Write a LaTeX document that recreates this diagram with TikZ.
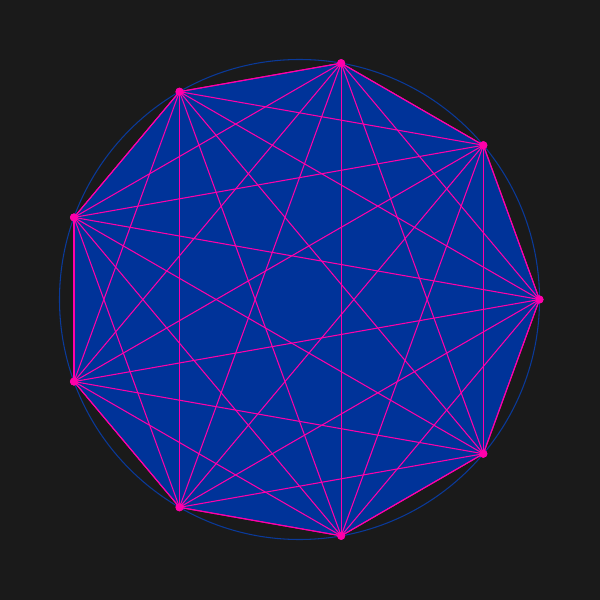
\documentclass[tikz,border=0pt]{standalone}
\usepackage{xcolor}
\usepackage{tikz}
\usetikzlibrary{positioning, calc}

\definecolor{bgdark}{HTML}{1A1A1A}
\definecolor{polyblue}{HTML}{003399}
\definecolor{ringblue}{HTML}{0A3A9A}
\definecolor{chordpink}{HTML}{FF00AA}

\begin{document}
\begin{tikzpicture}[
    ring/.style={draw=ringblue, line width=0.3pt},
    poly/.style={fill=polyblue, draw=chordpink, line width=0.3pt},
    chord/.style={draw=chordpink, line width=0.3pt},
    vertex/.style={circle, fill=chordpink, inner sep=0pt, minimum size=0.08cm}
]
\fill[bgdark] (0,0) rectangle (6,6);
\useasboundingbox (0,0) rectangle (6,6);
\coordinate (ctr) at (2.995,3.005);

% outer ring
\draw[ring] (ctr) circle (2.4);

% vertices of the nonagon
\node[vertex] (p0) at ($(ctr)+(0:2.4)$) {};
\node[vertex] (p1) at ($(ctr)+(40:2.4)$) {};
\node[vertex] (p2) at ($(ctr)+(80:2.4)$) {};
\node[vertex] (p3) at ($(ctr)+(120:2.4)$) {};
\node[vertex] (p4) at ($(ctr)+(160:2.4)$) {};
\node[vertex] (p5) at ($(ctr)+(200:2.4)$) {};
\node[vertex] (p6) at ($(ctr)+(240:2.4)$) {};
\node[vertex] (p7) at ($(ctr)+(280:2.4)$) {};
\node[vertex] (p8) at ($(ctr)+(320:2.4)$) {};

% filled body
\path[poly] (p0.center) -- (p1.center) -- (p2.center) -- (p3.center) -- (p4.center)
    -- (p5.center) -- (p6.center) -- (p7.center) -- (p8.center) -- cycle;

% all chords
\foreach \i in {0,...,7} {
  \pgfmathtruncatemacro{\nxt}{\i+1}
  \foreach \j in {\nxt,...,8} {
    \draw[chord] (p\i.center) -- (p\j.center);
  }
}

% dots on top
\foreach \i in {0,...,8} {
  \node[vertex] at (p\i) {};
}
\end{tikzpicture}
\end{document}
